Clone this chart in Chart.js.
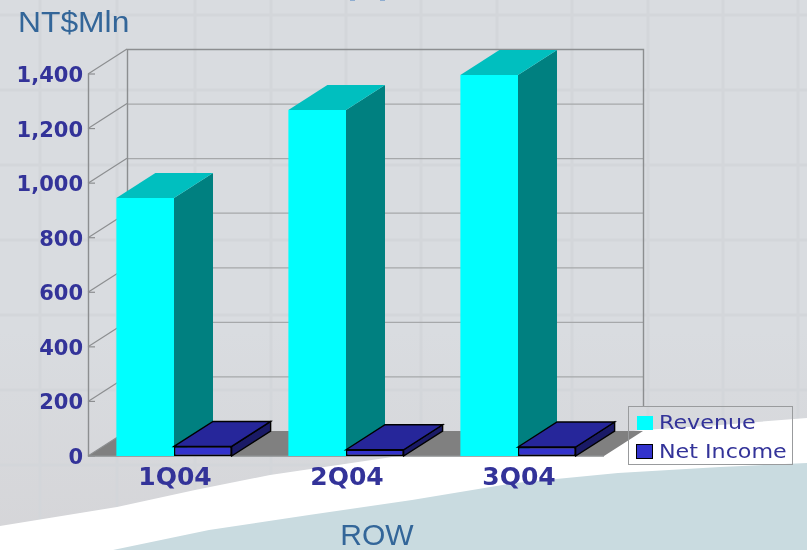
<!DOCTYPE html>
<html><head><meta charset="utf-8">
<style>
html,body{margin:0;padding:0;width:807px;height:550px;overflow:hidden;background:#d9dce0}
#wrap{position:relative;width:807px;height:550px}
#bg{position:absolute;left:0;top:0}
canvas#c{position:absolute;left:0;top:0}
</style>
<script src="https://cdn.jsdelivr.net/npm/chart.js@4"></script>
</head><body>
<div id="wrap">
<svg id="bg" width="807" height="550" xmlns="http://www.w3.org/2000/svg">
<defs><linearGradient id="g" x1="0" y1="0" x2="0" y2="1"><stop offset="0.6" stop-color="#d9dce0"/><stop offset="1" stop-color="#d5d5d8"/></linearGradient></defs>
<rect width="807" height="550" fill="url(#g)"/>
<g stroke="#d3d6da" stroke-width="3">
<line x1="40" y1="0" x2="40" y2="550"/><line x1="117" y1="0" x2="117" y2="550"/><line x1="195" y1="0" x2="195" y2="550"/><line x1="271" y1="0" x2="271" y2="550"/><line x1="346" y1="0" x2="346" y2="550"/><line x1="421" y1="0" x2="421" y2="550"/><line x1="497" y1="0" x2="497" y2="550"/>
<line x1="572" y1="0" x2="572" y2="550"/><line x1="648" y1="0" x2="648" y2="550"/><line x1="723" y1="0" x2="723" y2="550"/><line x1="798" y1="0" x2="798" y2="550"/>
<line x1="0" y1="15" x2="807" y2="15"/><line x1="0" y1="90" x2="807" y2="90"/><line x1="0" y1="165" x2="807" y2="165"/><line x1="0" y1="240" x2="807" y2="240"/><line x1="0" y1="315" x2="807" y2="315"/><line x1="0" y1="390" x2="807" y2="390"/><line x1="0" y1="465" x2="807" y2="465"/>
</g>
<path d="M0,526 L117,507 L195,490 L270,475 L392,457 L500,445 L643,430 L720,425 L807,418 L807,550 L0,550 Z" fill="#ffffff"/>
<path d="M113,550 L209,530 L309,515 L412,500 L515,483 L618,473 L720,467 L807,463 L807,550 Z" fill="#c9dbe0"/>
<g fill="#8fadd0"><rect x="350" y="0" width="5" height="1"/><rect x="380" y="0" width="5" height="1"/></g>
</svg>
<canvas id="c" width="807" height="550"></canvas>
</div>
<script>
const categories = ["1Q04", "2Q04", "3Q04"];
const revenue = [946, 1268, 1396];
const netIncome = [35, 23, 33];
const tickStep = 200;
const tickMax = 1400;
const seriesNames = ["Revenue", "Net Income"];
const yTitle = "NT$Mln";
const xTitle = "ROW";

const DEPTH_X = 39, DEPTH_Y = -25;
const GRID = "#a6a8aa", AXIS = "#8c8e90";
const faces = [
  {front:"#00ffff", top:"#00bfbf", side:"#008080", line:null},
  {front:"#3333cc", top:"#26269a", side:"#1a1a66", line:"#000000"}
];

function poly(ctx, pts, fill, line){
  ctx.beginPath();
  pts.forEach((p,i)=> i?ctx.lineTo(p[0],p[1]):ctx.moveTo(p[0],p[1]));
  ctx.closePath();
  ctx.fillStyle = fill; ctx.fill();
  if(line){ctx.strokeStyle=line;ctx.lineWidth=1.4;ctx.stroke();}
}

// nudges a scale's tick labels by a few pixels while the library still draws them
function nudgeLabels(scale,dx,dy){
  if(scale._nudged) return;
  scale._nudged=true;
  const draw=scale.drawLabels;
  scale.drawLabels=function(area){
    this.ctx.save();this.ctx.translate(dx,dy);draw.call(this,area);this.ctx.restore();
  };
}

function drawDepth(chart,index){
  const {ctx}=chart, f=faces[index];
  ctx.save();
  chart.getDatasetMeta(index).data.forEach(el=>{
    const h=el.getProps(["x","y","base","width"],true);
    const l=h.x-h.width/2,r=h.x+h.width/2;
    poly(ctx,[[r,h.y],[r+DEPTH_X,h.y+DEPTH_Y],[r+DEPTH_X,h.base+DEPTH_Y],[r,h.base]],f.side,f.line);
    poly(ctx,[[l,h.y],[l+DEPTH_X,h.y+DEPTH_Y],[r+DEPTH_X,h.y+DEPTH_Y],[r,h.y]],f.top,f.line);
  });
  ctx.restore();
}

const box3d = {
  id:"box3d",
  beforeDatasetsDraw(chart){
    const {ctx, scales:{x,y}, chartArea:a} = chart;
    ctx.save();
    poly(ctx, [[a.left,a.bottom],[a.right,a.bottom],[a.right+DEPTH_X,a.bottom+DEPTH_Y],[a.left+DEPTH_X,a.bottom+DEPTH_Y]], "#808080");
    ctx.lineWidth=1.2;
    for(let v=0;v<=tickMax;v+=tickStep){
      const py=y.getPixelForValue(v);
      if(v>0){
        ctx.strokeStyle=GRID;
        ctx.beginPath();
        ctx.moveTo(a.left+DEPTH_X,py+DEPTH_Y+.5);ctx.lineTo(a.right+DEPTH_X,py+DEPTH_Y+.5);ctx.stroke();
      }
      ctx.strokeStyle=AXIS;
      ctx.beginPath();
      ctx.moveTo(a.left,py);ctx.lineTo(a.left+DEPTH_X,py+DEPTH_Y);ctx.stroke();
      ctx.beginPath();
      ctx.moveTo(a.left,py);ctx.lineTo(a.left+7,py);ctx.stroke();
    }
    const t=y.getPixelForValue(tickMax), b=y.getPixelForValue(0);
    ctx.strokeStyle=AXIS;ctx.lineWidth=1.4;
    ctx.beginPath();
    ctx.moveTo(a.left+.5,t);ctx.lineTo(a.left+.5,b);
    ctx.lineTo(a.right,b);
    ctx.moveTo(a.left+DEPTH_X+.5,b+DEPTH_Y);ctx.lineTo(a.left+DEPTH_X+.5,t+DEPTH_Y+.5);ctx.lineTo(a.right+DEPTH_X+.5,t+DEPTH_Y+.5);ctx.lineTo(a.right+DEPTH_X+.5,406);
    ctx.stroke();
    ctx.restore();
  },
  beforeDatasetDraw(chart,args){
    if(args.index===1) return false;   // drawn last, over the revenue side faces
    drawDepth(chart,args.index);
  },
  afterDatasetsDraw(chart){
    drawDepth(chart,1);
    chart.getDatasetMeta(1).data.forEach(el=>el.draw(chart.ctx));
  },
  afterDraw(chart){
    const {ctx}=chart;
    ctx.save();
    ctx.fillStyle="#336699";
    ctx.font='30px "Liberation Sans"';
    ctx.textBaseline="alphabetic";
    ctx.textAlign="left";
    ctx.save();ctx.translate(18,32);ctx.scale(1.06,1);ctx.fillText(yTitle,0,0);ctx.restore();
    ctx.textAlign="center";
    ctx.fillText(xTitle,377,545);
    const lx=628.5,ly=406.5,lw=164,lh=58;
    ctx.strokeStyle="#999b9d";ctx.lineWidth=1;
    ctx.strokeRect(lx,ly,lw,lh);
    ctx.textAlign="left";ctx.textBaseline="middle";
    seriesNames.forEach((n,i)=>{
      const sy=423+i*29;
      ctx.fillStyle=faces[i].front;
      ctx.fillRect(637,sy-7,16,14);
      if(faces[i].line){ctx.strokeStyle="#000";ctx.lineWidth=1;ctx.strokeRect(636.5,sy-7.5,16,14);}
      ctx.fillStyle="#333399";
      ctx.font='20px "DejaVu Sans"';
      ctx.save();ctx.translate(659,sy+1);ctx.scale(1.11,1);ctx.fillText(n,0,0);ctx.restore();
    });
    ctx.restore();
  }
};

new Chart(document.getElementById("c"),{
  type:"bar",
  data:{labels:categories,datasets:[
    {label:seriesNames[0],data:revenue,backgroundColor:faces[0].front,borderWidth:0,categoryPercentage:.67,barPercentage:1},
    {label:seriesNames[1],data:netIncome,backgroundColor:faces[1].front,borderColor:"#000",borderWidth:1.4,borderSkipped:false,categoryPercentage:.67,barPercentage:1}
  ]},
  options:{
    responsive:false,animation:false,
    layout:{padding:{left:0,right:203,top:74,bottom:0}},
    plugins:{legend:{display:false},tooltip:{enabled:false}},
    scales:{
      x:{afterFit(s){s.height=94;nudgeLabels(s,1,-4);},grid:{display:false},border:{display:false},
         ticks:{color:"#333399",font:{family:"DejaVu Sans",weight:"bold",size:25},padding:3,maxRotation:0}},
      y:{min:0,max:tickMax,afterFit(s){s.width=88;nudgeLabels(s,3,2.5);},grid:{display:false},border:{display:false},
         ticks:{stepSize:tickStep,color:"#333399",font:{family:"DejaVu Sans",weight:"bold",size:21},padding:0}}
    }
  },
  plugins:[box3d]
});
</script>
</body></html>
